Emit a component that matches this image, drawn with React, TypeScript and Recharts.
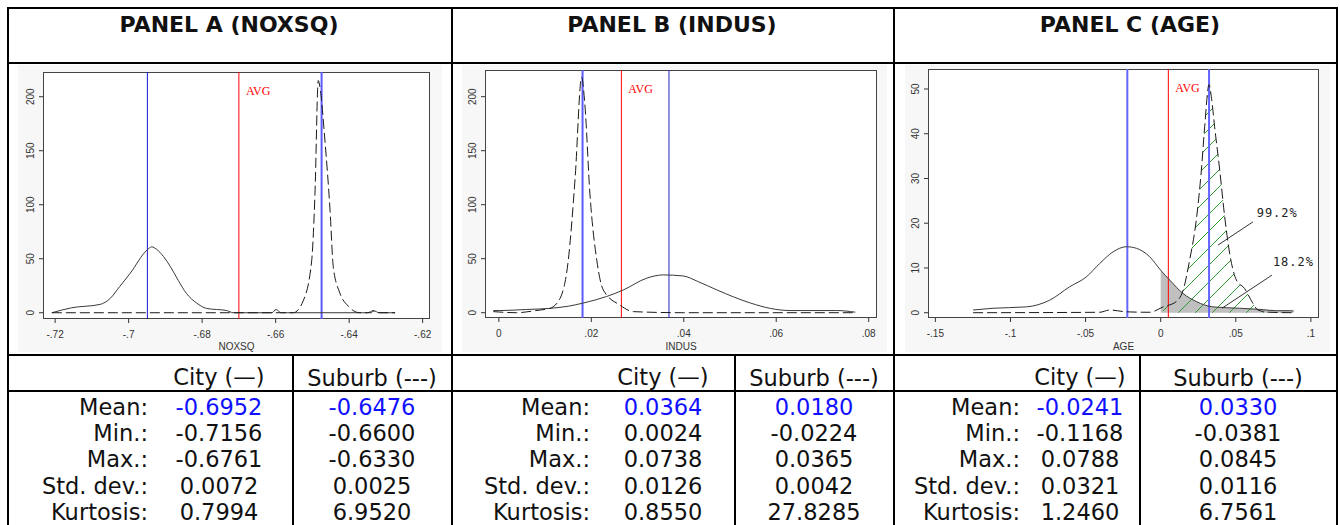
import React from "react";
import { ComposedChart, Line, Area, XAxis, YAxis, ReferenceLine, ReferenceDot } from "recharts";

// ---- values ----
const titles = ["PANEL A (NOXSQ)", "PANEL B (INDUS)", "PANEL C (AGE)"];
const axisNames = ["NOXSQ", "INDUS", "AGE"];
const rowLabels = ["Mean:", "Min.:", "Max.:", "Std. dev.:", "Kurtosis:"];

const statsCityA = ["-0.6952", "-0.7156", "-0.6761", "0.0072", "0.7994"];
const statsSuburbA = ["-0.6476", "-0.6600", "-0.6330", "0.0025", "6.9520"];
const statsCityB = ["0.0364", "0.0024", "0.0738", "0.0126", "0.8550"];
const statsSuburbB = ["0.0180", "-0.0224", "0.0365", "0.0042", "27.8285"];
const statsCityC = ["-0.0241", "-0.1168", "0.0788", "0.0321", "1.2460"];
const statsSuburbC = ["0.0330", "-0.0381", "0.0845", "0.0116", "6.7561"];

// density curves, panel A (NOXSQ)
const noxCityX = [-0.7209, -0.7155, -0.7078, -0.705, -0.7025, -0.6996, -0.695, -0.6937, -0.6925, -0.6905, -0.6887, -0.6865, -0.6843, -0.6815, -0.6788, -0.6733, -0.6715, -0.661, -0.6599, -0.6585, -0.6552, -0.635, -0.6334, -0.6318, -0.6275];
const noxCityY = [0, 4.6, 7.7, 13.3, 24, 36.4, 58, 61, 59, 52, 43, 30, 18, 9, 4, 2, 0, 0, 3, 0, 0, 0, 2, 0, 0];
const noxSubX = [-0.7209, -0.6552, -0.6525, -0.6502, -0.6493, -0.6484, -0.648, -0.6466, -0.6452, -0.6443, -0.6425, -0.6402, -0.6371, -0.634, -0.6334, -0.6325, -0.6275];
const noxSubY = [0, 0, 11, 48, 110, 215, 210, 160, 95, 42, 18, 6, 0, 0, 1.5, 0, 0];

// panel B (INDUS)
const indCityX = [-0.0012, 0.0002, 0.006, 0.011, 0.015, 0.0183, 0.0233, 0.0269, 0.032, 0.0356, 0.0399, 0.043, 0.0472, 0.0544, 0.0587, 0.063, 0.0731, 0.0771];
const indCityY = [2, 2, 3, 4, 6, 9, 15, 21, 32, 35, 34, 29, 21, 9, 4, 2, 2, 0.5];
const indSubX = [-0.0012, 0.0038, 0.008, 0.011, 0.0132, 0.015, 0.0165, 0.0179, 0.0186, 0.0197, 0.0212, 0.0226, 0.0262, 0.0291, 0.0399, 0.0771];
const indSubY = [1, 0, 2, 4, 13, 48, 125, 218, 193, 110, 48, 21, 7, 1, 0, 0];

// panel C (AGE)
const ageCityX = [-0.1249, -0.1116, -0.0894, -0.0739, -0.0606, -0.0495, -0.0406, -0.0317, -0.0228, -0.0162, -0.0073, 0, 0.006, 0.0149, 0.0237, 0.0348, 0.0526, 0.0659, 0.077, 0.0858, 0.0885];
const ageCityY = [0.6, 1.0, 1.3, 2.8, 5.8, 8.0, 11.0, 13.6, 14.75, 14.4, 12.5, 9.5, 7.3, 4.3, 2.5, 1.3, 1.0, 0.75, 0.45, 0.45, 0.4];
const ageSubX = [-0.1249, -0.0406, -0.0339, -0.0228, -0.0073, 0.0016, 0.0104, 0.0149, 0.0193, 0.0237, 0.0271, 0.0293, 0.0322, 0.0337, 0.0359, 0.0393, 0.0426, 0.0459, 0.0504, 0.0559, 0.0614, 0.0648, 0.0725, 0.0885];
const ageSubY = [0, 0.1, 0.6, 0.2, 0.1, 1.3, 2.5, 5.0, 11.8, 20.7, 31.9, 41.6, 51, 48.3, 41.6, 31.9, 21.5, 13.3, 7.3, 5.4, 2.1, 0.6, 0.1, 0];

// vertical lines: group means as drawn, and the average
const noxMeans = [-0.6949, -0.6475];
const indMeans = [0.0181, 0.0368];
const ageMeans = [-0.0222, 0.0322];
const avgLines = [-0.67, 0.0265, 0.0051];

// panel C annotations
const shareLabels = ["99.2%", "18.2%"];
const shareLabelX = [0.0639, 0.0747];
const shareLabelY = [21.4, 10.5];
const leader1 = [
  { x: 0.0614, y: 20.3 },
  { x: 0.0381, y: 15.1 },
];
const leader2 = [
  { x: 0.0741, y: 8.4 },
  { x: 0.0408, y: 1.0 },
];

type Pt = { x: number; y: number };
const zip = (xs: number[], ys: number[]): Pt[] => xs.map((x, i) => ({ x, y: ys[i] }));

const fmt = (v: number) => (v === 0 ? "0" : String(v).replace(/^(-?)0\./, "$1."));

const RotTick = (p: any) => (
  <text
    x={p.x}
    y={p.y}
    transform={`rotate(-90 ${p.x} ${p.y})`}
    textAnchor="middle"
    fontSize={10}
    fill="#333"
    fontFamily="Liberation Sans"
  >
    {p.payload.value}
  </text>
);

const AvgLabel = (p: any) => {
  const vb = p.viewBox || {};
  return (
    <text x={vb.x + 7} y={vb.y + 23} fill="#ff0000" fontSize={12} fontFamily="Liberation Serif">
      AVG
    </text>
  );
};

interface PanelCfg {
  frame: { l: number; t: number; r: number; b: number };
  bg: { l: number; r: number };
  xDomain: [number, number];
  yDomain: [number, number];
  xTicks: number[];
  yTicks: number[];
  xLabel: string;
  city: Pt[];
  suburb: Pt[];
  means: number[];
  meanStyle: { c: string; w: number }[];
  avg: number;
  shade?: boolean;
}

const Panel = ({ cfg }: { cfg: PanelCfg }) => {
  const f = cfg.frame;
  const cl = f.l - 27;
  const ct = f.t - 6;
  const cw = f.r - cl + 8;
  const ch = 353 - ct;
  const greyTail = cfg.city.filter((d) => d.x >= 0);
  const hatchTail = cfg.suburb.filter((d) => d.x >= 0);
  return (
    <>
      <div style={{ position: "absolute", left: cfg.bg.l, top: 65, width: cfg.bg.r - cfg.bg.l, height: 287, background: "#f7f7f7" }} />
      <div
        style={{
          position: "absolute",
          left: f.l,
          top: f.t,
          width: f.r - f.l,
          height: f.b - f.t,
          boxSizing: "border-box",
          border: "1px solid #444",
          background: "#fff",
        }}
      />
      <div style={{ position: "absolute", left: cl, top: ct }}>
        <ComposedChart width={cw} height={ch} margin={{ top: 6, right: 8, bottom: 0, left: 0 }}>
          <defs>
            <pattern id="hatch" patternUnits="userSpaceOnUse" width="17" height="17">
              <path d="M-4,4 l8,-8 M0,17 l17,-17 M13,21 l8,-8" stroke="#2f9a2f" strokeWidth="1" />
            </pattern>
          </defs>
          <XAxis
            type="number"
            dataKey="x"
            domain={cfg.xDomain}
            ticks={cfg.xTicks}
            allowDataOverflow
            interval={0}
            axisLine={false}
            tickSize={4}
            tickMargin={8}
            height={353 - f.b}
            tickFormatter={fmt}
            tick={{ fontSize: 10, fill: "#333", fontFamily: "Liberation Sans" }}
            tickLine={{ stroke: "#333" }}
            label={{ value: cfg.xLabel, position: "insideBottom", offset: 3, fontSize: 10, fill: "#333", fontFamily: "Liberation Sans" }}
          />
          <YAxis
            type="number"
            domain={cfg.yDomain}
            ticks={cfg.yTicks}
            allowDataOverflow
            interval={0}
            axisLine={false}
            width={27}
            tickSize={4}
            tickMargin={5}
            tick={RotTick}
            tickLine={{ stroke: "#333" }}
          />
          {cfg.shade && (
            <Area data={greyTail} dataKey="y" type="monotone" baseValue={0} fill="#c0c0c0" fillOpacity={1} stroke="none" isAnimationActive={false} />
          )}
          {cfg.shade && (
            <Area data={hatchTail} dataKey="y" type="monotone" baseValue={0} fill="url(#hatch)" fillOpacity={1} stroke="none" isAnimationActive={false} />
          )}
          <ReferenceLine x={cfg.means[0]} stroke={cfg.meanStyle[0].c} strokeWidth={cfg.meanStyle[0].w} />
          <ReferenceLine x={cfg.means[1]} stroke={cfg.meanStyle[1].c} strokeWidth={cfg.meanStyle[1].w} />
          <ReferenceLine x={cfg.avg} stroke="#ff0000" strokeWidth={1} label={AvgLabel} />
          <Line data={cfg.city} dataKey="y" type="monotone" stroke="#3a3a3a" strokeWidth={1} dot={false} isAnimationActive={false} />
          <Line data={cfg.suburb} dataKey="y" type="monotone" stroke="#1a1a1a" strokeWidth={1} strokeDasharray="10 4" dot={false} isAnimationActive={false} />
          {cfg.shade && <ReferenceLine segment={leader1} stroke="#333" strokeWidth={1} />}
          {cfg.shade && <ReferenceLine segment={leader2} stroke="#333" strokeWidth={1} />}
          {cfg.shade &&
            shareLabels.map((s, i) => (
              <ReferenceDot
                key={s}
                x={shareLabelX[i]}
                y={shareLabelY[i]}
                r={0}
                shape={(p: any) => (
                  <text x={p.cx} y={p.cy} fontSize={12} letterSpacing={1} fill="#222" fontFamily="DejaVu Sans Mono">
                    {s}
                  </text>
                )}
              />
            ))}
        </ComposedChart>
      </div>
    </>
  );
};

const panels: PanelCfg[] = [
  {
    frame: { l: 43, t: 72, r: 430, b: 319 },
    bg: { l: 18, r: 442 },
    xDomain: [-0.7233, -0.618],
    yDomain: [-5.8, 222.9],
    xTicks: [-0.72, -0.7, -0.68, -0.66, -0.64, -0.62],
    yTicks: [0, 50, 100, 150, 200],
    xLabel: axisNames[0],
    city: zip(noxCityX, noxCityY),
    suburb: zip(noxSubX, noxSubY),
    means: noxMeans,
    meanStyle: [
      { c: "#1414d4", w: 1 },
      { c: "#5a5aff", w: 2 },
    ],
    avg: avgLines[0],
  },
  {
    frame: { l: 485, t: 70, r: 877, b: 318 },
    bg: { l: 462, r: 887 },
    xDomain: [-0.003, 0.0818],
    yDomain: [-4.9, 224.7],
    xTicks: [0, 0.02, 0.04, 0.06, 0.08],
    yTicks: [0, 50, 100, 150, 200],
    xLabel: axisNames[1],
    city: zip(indCityX, indCityY),
    suburb: zip(indSubX, indSubY),
    means: indMeans,
    meanStyle: [
      { c: "#5a5aff", w: 2 },
      { c: "#2020c8", w: 1 },
    ],
    avg: avgLines[1],
  },
  {
    frame: { l: 928, t: 69, r: 1319, b: 318 },
    bg: { l: 905, r: 1330 },
    xDomain: [-0.1549, 0.1054],
    yDomain: [-1.18, 54.47],
    xTicks: [-0.15, -0.1, -0.05, 0, 0.05, 0.1],
    yTicks: [0, 10, 20, 30, 40, 50],
    xLabel: axisNames[2],
    city: zip(ageCityX, ageCityY),
    suburb: zip(ageSubX, ageSubY),
    means: ageMeans,
    meanStyle: [
      { c: "#6464ff", w: 2 },
      { c: "#6464ff", w: 2 },
    ],
    avg: avgLines[2],
    shade: true,
  },
];

// table layout per panel: label right edge, city column centre, suburb column centre, title centre
const tableCols = [
  { lab: 148, city: 219, sub: 372, title: 229, cityVals: statsCityA, subVals: statsSuburbA },
  { lab: 590, city: 663, sub: 814, title: 672, cityVals: statsCityB, subVals: statsSuburbB },
  { lab: 1020, city: 1080, sub: 1238, title: 1130, cityVals: statsCityC, subVals: statsSuburbC },
];
const rowCentres = [407, 432.5, 459, 485.5, 512];

const Rule = ({ x, y, w, h }: { x: number; y: number; w: number; h: number }) => (
  <div style={{ position: "absolute", left: x, top: y, width: w, height: h, background: "#000" }} />
);

const Cell = ({ x, y, text, align, color, bold, size }: any) => (
  <div
    style={{
      position: "absolute",
      left: align === "right" ? x - 300 : x - 150,
      top: y - 14,
      width: 300,
      height: 28,
      lineHeight: "28px",
      textAlign: align === "right" ? "right" : "center",
      fontSize: size || 22.5,
      fontWeight: bold ? 700 : 400,
      color: color || "#111",
      whiteSpace: "nowrap",
    }}
  >
    {text}
  </div>
);

export default function App() {
  return (
    <div
      style={{
        position: "absolute",
        left: 0,
        top: 0,
        width: 1340,
        height: 525,
        background: "#fff",
        overflow: "hidden",
        fontFamily: "'DejaVu Sans', Verdana, sans-serif",
      }}
    >
      {panels.map((p, i) => (
        <Panel key={i} cfg={p} />
      ))}

      {/* frame rules */}
      <Rule x={7} y={7} w={1331} h={2} />
      <Rule x={7} y={7} w={2} h={520} />
      <Rule x={1336} y={7} w={2} h={520} />
      <Rule x={7} y={62} w={1331} h={2} />
      <Rule x={451} y={7} w={2} h={520} />
      <Rule x={893} y={7} w={2} h={520} />
      <Rule x={7} y={354} w={1331} h={2} />
      <Rule x={7} y={390} w={1331} h={2} />
      <Rule x={292} y={354} w={2} h={171} />
      <Rule x={734} y={354} w={2} h={171} />
      <Rule x={1139} y={354} w={2} h={171} />

      {tableCols.map((c, i) => (
        <React.Fragment key={i}>
          <Cell x={c.title} y={25} text={titles[i]} bold size={22} />
          <Cell x={c.city} y={377} text="City (—)" />
          <Cell x={c.sub} y={378} text="Suburb (---)" />
          {rowLabels.map((l, r) => (
            <React.Fragment key={r}>
              <Cell x={c.lab} y={rowCentres[r]} text={l} align="right" />
              <Cell x={c.city} y={rowCentres[r]} text={c.cityVals[r]} color={r === 0 ? "#1010ff" : undefined} />
              <Cell x={c.sub} y={rowCentres[r]} text={c.subVals[r]} color={r === 0 ? "#1010ff" : undefined} />
            </React.Fragment>
          ))}
        </React.Fragment>
      ))}
    </div>
  );
}
